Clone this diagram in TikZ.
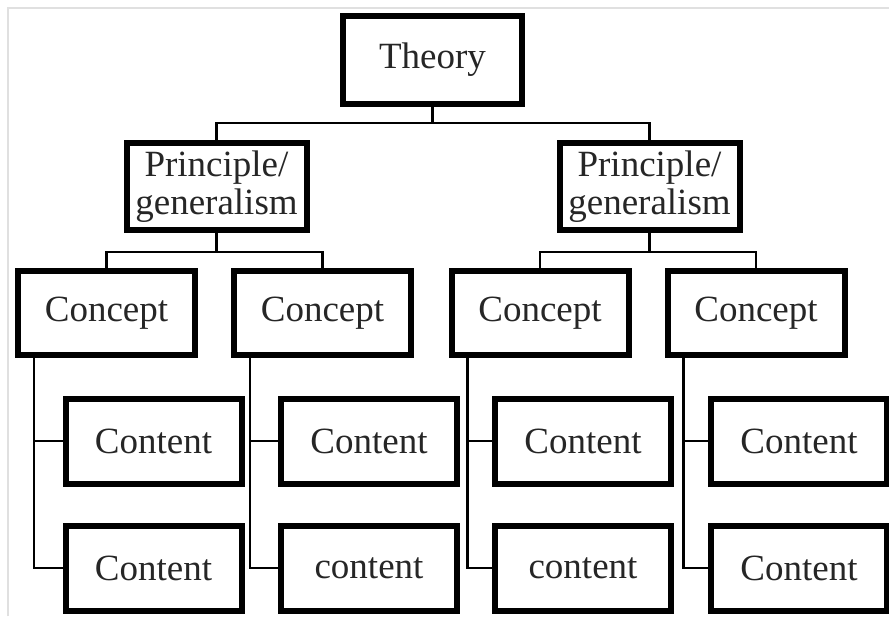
\documentclass[tikz,border=0pt]{standalone}
\usepackage{fontspec}
\setmainfont{Liberation Serif}
\begin{document}
\begin{tikzpicture}[x=1pt,y=-1pt,
  box/.style={draw=black,line width=6pt,fill=white,inner sep=0pt,align=center,
    font=\fontsize{37}{38}\selectfont,text=black!85},
  thbox/.style={box,minimum width=179pt,minimum height=88pt},
  prbox/.style={box,minimum width=180pt,minimum height=87pt},
  cpbox/.style={box,minimum width=177pt,minimum height=84pt},
  ctbox/.style={box,minimum width=176pt,minimum height=85pt},
  link/.style={draw=black,line width=2.4pt}]
\useasboundingbox (0,0) rectangle (889,626);
\fill[white] (0,0) rectangle (889,626);
\draw[black!12,line width=2pt] (8,616) -- (8,8) -- (889,8);

% nodes
\node[thbox] (th) at (432.5,60) {Theory};
\node[prbox] (pl) at (216.5,186.5) {Principle/\\generalism};
\node[prbox] (pr) at (649.5,186.5) {Principle/\\generalism};

\node[cpbox] (c1) at (106.5,313) {Concept};
\node[cpbox] (c2) at (322.5,313) {Concept};
\node[cpbox] (c3) at (540,313) {Concept};
\node[cpbox] (c4) at (756,313) {Concept};

\node[ctbox] (k11) at (153.5,441) {Content};
\node[ctbox] (k12) at (153.5,568) {Content};
\node[ctbox] (k21) at (369,441) {Content};
\node[ctbox] (k22) at (369,568) {content};
\node[ctbox] (k31) at (583,441) {Content};
\node[ctbox] (k32) at (583,568) {content};
\node[ctbox] (k41) at (799,441) {Content};
\node[ctbox] (k42) at (799,568) {Content};

% junction coordinates
\coordinate (j0) at (432.5,123);
\coordinate (jl) at (216.5,252);
\coordinate (jr) at (649.5,252);

% connectors
\draw[link] (th.south) -- (j0);
\draw[link] (pl.north) |- (j0) -| (pr.north);
\draw[link] (pl.south) -- (jl);
\draw[link] (c1.north) |- (jl) -| (c2.north);
\draw[link] (pr.south) -- (jr);
\draw[link] (c3.north) |- (jr) -| (c4.north);
\foreach \c/\a/\b in {c1/k11/k12,c2/k21/k22,c3/k31/k32,c4/k41/k42}{
  \draw[link] ([xshift=19pt]\c.south west) |- (\a.west);
  \draw[link] ([xshift=19pt]\c.south west) |- (\b.west);
}
\end{tikzpicture}
\end{document}
